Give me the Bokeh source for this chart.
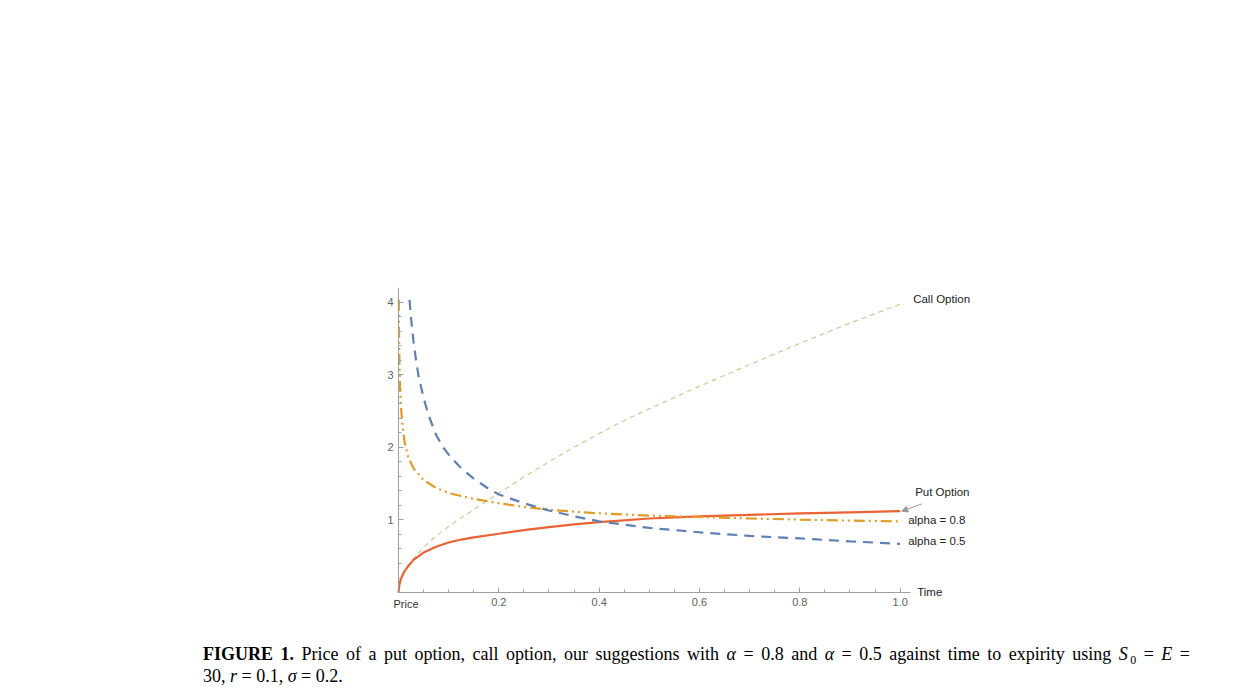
from bokeh.plotting import figure
from bokeh.models import Range1d, FixedTicker, Label, Arrow, NormalHead, Div
from bokeh.layouts import column
from bokeh.embed import file_html
from bokeh.resources import INLINE

# ---- data ----
call_t = [0, 0.005, 0.01, 0.015, 0.025, 0.05, 0.075, 0.1, 0.125, 0.15, 0.2, 0.25, 0.3, 0.35,
          0.4, 0.45, 0.5, 0.6, 0.7, 0.8, 0.9, 1.0]
call_v = [0, 0.17, 0.26, 0.33, 0.43, 0.62, 0.78, 0.91, 1.03, 1.14, 1.37, 1.59, 1.80, 2.00,
          2.19, 2.37, 2.53, 2.84, 3.14, 3.43, 3.71, 3.97]

put_t = [0, 0.002, 0.005, 0.01, 0.02, 0.03, 0.05, 0.075, 0.1, 0.125, 0.15, 0.2, 0.25, 0.3,
         0.35, 0.4, 0.5, 0.6, 0.7, 0.8, 0.9, 1.0]
put_v = [0, 0.12, 0.19, 0.27, 0.37, 0.45, 0.55, 0.63, 0.69, 0.73, 0.76, 0.81, 0.86, 0.90,
         0.94, 0.97, 1.02, 1.05, 1.07, 1.09, 1.105, 1.12]

a08_t = [0.0006, 0.001, 0.002, 0.003, 0.005, 0.008, 0.012, 0.02, 0.03, 0.05, 0.075, 0.1, 0.15,
         0.2, 0.25, 0.3, 0.4, 0.5, 0.6, 0.7, 0.8, 0.9, 1.0]
a08_v = [4.03, 3.6, 3.15, 2.85, 2.55, 2.3, 2.08, 1.85, 1.71, 1.55, 1.44, 1.37, 1.29,
         1.23, 1.18, 1.14, 1.09, 1.06, 1.04, 1.02, 1.005, 0.99, 0.98]

a05_t = [0.022, 0.025, 0.03, 0.035, 0.04, 0.05, 0.06, 0.075, 0.09, 0.1, 0.125, 0.15, 0.175,
         0.2, 0.25, 0.3, 0.35, 0.4, 0.5, 0.6, 0.7, 0.8, 0.9, 1.0]
a05_v = [4.03, 3.78, 3.45, 3.2, 2.98, 2.68, 2.44, 2.17, 1.99, 1.90, 1.71, 1.57, 1.45,
         1.35, 1.23, 1.13, 1.05, 0.98, 0.89, 0.83, 0.78, 0.745, 0.705, 0.67]

x_ticks = [0, 0.2, 0.4, 0.6, 0.8, 1.0]
x_minor = [0.05, 0.1, 0.15, 0.25, 0.3, 0.35, 0.45, 0.5, 0.55, 0.65, 0.7, 0.75, 0.85, 0.9, 0.95]
y_ticks = [1, 2, 3, 4]
y_minor = [0.2, 0.4, 0.6, 0.8, 1.2, 1.4, 1.6, 1.8, 2.2, 2.4, 2.6, 2.8, 3.2, 3.4, 3.6, 3.8]
x_labels = {0: "", 1: "1.0"}

# ---- styling ----
C_CALL = "#CACA94"
C_PUT = "#EB6235"
C_A08 = "#E19C24"
C_A05 = "#5E81B5"
AX = "#A0A0A0"
TICKLBL = "#606060"
SANS = "Liberation Sans"

p = figure(width=1222, height=640, output_backend="svg", toolbar_location=None,
           x_range=Range1d(-0.0558, 1.2), y_range=Range1d(-0.302, 4.2),
           min_border_left=370, min_border_right=222, min_border_top=287, min_border_bottom=26)
p.outline_line_color = None
p.xgrid.visible = False
p.ygrid.visible = False
p.background_fill_color = "white"
p.border_fill_color = "white"

p.xaxis.ticker = FixedTicker(ticks=x_ticks, minor_ticks=x_minor)
p.yaxis.ticker = FixedTicker(ticks=y_ticks, minor_ticks=y_minor)
p.xaxis.bounds = (0, 1.02)
p.yaxis.bounds = (0, 4.2)
p.xaxis.fixed_location = 0
p.yaxis.fixed_location = 0
for ax in (p.xaxis, p.yaxis):
    ax.axis_line_color = AX
    ax.major_tick_line_color = AX
    ax.minor_tick_line_color = AX
    ax.major_tick_in = 5
    ax.major_tick_out = 0
    ax.minor_tick_in = 3
    ax.minor_tick_out = 0
    ax.major_label_text_font = SANS
    ax.major_label_text_font_size = "11px"
    ax.major_label_text_color = TICKLBL
    ax.major_label_standoff = 5
p.xaxis.major_label_overrides = x_labels

p.line(call_t, call_v, line_color=C_CALL, line_width=1.2, line_dash="5 4")
p.line(put_t, put_v, line_color=C_PUT, line_width=2.2)
p.line(a08_t, a08_v, line_color=C_A08, line_width=2.2, line_dash="11 4 2 4 2 4")
p.line(a05_t, a05_v, line_color=C_A05, line_width=2.2, line_dash="10 7")

def lab(x, y, text, xo=0, yo=0, size="11.5px", color="#222222"):
    p.add_layout(Label(x=x, y=y, text=text, x_offset=xo, y_offset=yo,
                       text_font=SANS, text_font_size=size, text_color=color,
                       text_baseline="middle", text_align="left"))

lab(call_t[-1], call_v[-1], "Call Option", xo=13, yo=5)
lab(put_t[-1], put_v[-1], "Put Option", xo=15, yo=19)
lab(a08_t[-1], a08_v[-1], "alpha = 0.8", xo=8, yo=1)
lab(a05_t[-1], a05_v[-1], "alpha = 0.5", xo=8, yo=3)
lab(x_ticks[-1], 0, "Time", xo=17, yo=1)
lab(x_ticks[0], 0, "Price", xo=-5, yo=-11, size="11px", color="#333333")

p.add_layout(Arrow(x_start=1.043, y_start=1.22, x_end=put_t[-1] + 0.003, y_end=put_v[-1],
                   line_color="#999999", line_width=1,
                   end=NormalHead(size=6, fill_color="#999999", line_color="#999999")))

line1 = ('<b>FIGURE 1.</b> Price of a put option, call option, our suggestions with '
         '<i>&alpha;</i> = 0.8 and <i>&alpha;</i> = 0.5 against time to expirity using '
         '<i>S</i><span style="position:relative;top:4px;font-size:12px;line-height:0">&thinsp;0</span> = <i>E</i> =')
line2 = '30, <i>r</i> = 0.1, <i>&sigma;</i> = 0.2.'
cap_html = ('<div style="width:987px;margin-left:198px;margin-top:-2px;font-family:\'Liberation Serif\';'
            'font-size:18px;line-height:22px;color:#000">'
            '<div style="text-align:justify;text-align-last:justify;white-space:nowrap;height:22px">' + line1 + '</div>'
            '<div style="height:22px">' + line2 + '</div></div>')
caption = Div(text=cap_html, width=1222, height=50)

layout = column(p, caption, spacing=0)
open("out.html", "w").write(file_html(layout, INLINE))
